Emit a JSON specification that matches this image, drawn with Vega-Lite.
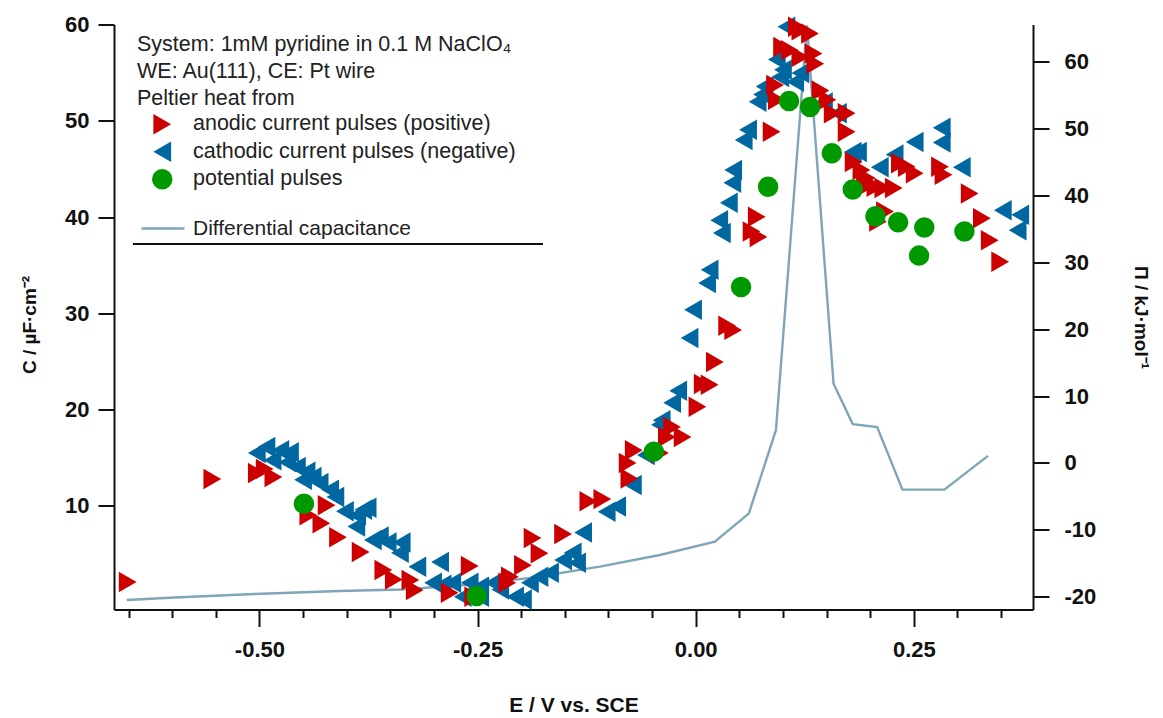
{
  "$schema": "https://vega.github.io/schema/vega-lite/v6.json",
  "width": 919,
  "height": 585,
  "autosize": {"type": "none"},
  "padding": {"left": 114, "top": 24.5, "right": 130, "bottom": 108.5},
  "config": {
    "view": {"stroke": null},
    "font": "Liberation Sans",
    "axis": {"labelFont": "Liberation Sans", "titleFont": "Liberation Sans"},
    "legend": {"labelFont": "Liberation Sans", "titleFont": "Liberation Sans"}
  },
  "datasets": {
    "capacitance": [
      {"E": -0.652, "C": 0.24, "trace": "Differential capacitance"},
      {"E": -0.597, "C": 0.5, "trace": "Differential capacitance"},
      {"E": -0.506, "C": 0.86, "trace": "Differential capacitance"},
      {"E": -0.408, "C": 1.17, "trace": "Differential capacitance"},
      {"E": -0.338, "C": 1.33, "trace": "Differential capacitance"},
      {"E": -0.263, "C": 1.8, "trace": "Differential capacitance"},
      {"E": -0.19, "C": 2.52, "trace": "Differential capacitance"},
      {"E": -0.11, "C": 3.7, "trace": "Differential capacitance"},
      {"E": -0.041, "C": 4.91, "trace": "Differential capacitance"},
      {"E": 0.022, "C": 6.29, "trace": "Differential capacitance"},
      {"E": 0.061, "C": 9.24, "trace": "Differential capacitance"},
      {"E": 0.092, "C": 17.9, "trace": "Differential capacitance"},
      {"E": 0.1275, "C": 59.9, "trace": "Differential capacitance"},
      {"E": 0.158, "C": 22.7, "trace": "Differential capacitance"},
      {"E": 0.18, "C": 18.5, "trace": "Differential capacitance"},
      {"E": 0.208, "C": 18.2, "trace": "Differential capacitance"},
      {"E": 0.237, "C": 11.7, "trace": "Differential capacitance"},
      {"E": 0.285, "C": 11.7, "trace": "Differential capacitance"},
      {"E": 0.335, "C": 15.2, "trace": "Differential capacitance"}
    ],
    "peltier": [
      {"E": -0.503, "Pi": 1.5, "series": "cathodic current pulses (negative)"},
      {"E": -0.492, "Pi": 2.4, "series": "cathodic current pulses (negative)"},
      {"E": -0.476, "Pi": 1.9, "series": "cathodic current pulses (negative)"},
      {"E": -0.465, "Pi": 1.6, "series": "cathodic current pulses (negative)"},
      {"E": -0.485, "Pi": 0.4, "series": "cathodic current pulses (negative)"},
      {"E": -0.468, "Pi": 0.1, "series": "cathodic current pulses (negative)"},
      {"E": -0.457, "Pi": -0.6, "series": "cathodic current pulses (negative)"},
      {"E": -0.446, "Pi": -1.3, "series": "cathodic current pulses (negative)"},
      {"E": -0.439, "Pi": -2.1, "series": "cathodic current pulses (negative)"},
      {"E": -0.45, "Pi": -2.5, "series": "cathodic current pulses (negative)"},
      {"E": -0.431, "Pi": -3.0, "series": "cathodic current pulses (negative)"},
      {"E": -0.419, "Pi": -4.0, "series": "cathodic current pulses (negative)"},
      {"E": -0.413, "Pi": -5.1, "series": "cathodic current pulses (negative)"},
      {"E": -0.402, "Pi": -7.2, "series": "cathodic current pulses (negative)"},
      {"E": -0.388, "Pi": -7.8, "series": "cathodic current pulses (negative)"},
      {"E": -0.381, "Pi": -7.0, "series": "cathodic current pulses (negative)"},
      {"E": -0.376, "Pi": -6.7, "series": "cathodic current pulses (negative)"},
      {"E": -0.389, "Pi": -9.5, "series": "cathodic current pulses (negative)"},
      {"E": -0.37, "Pi": -11.5, "series": "cathodic current pulses (negative)"},
      {"E": -0.362, "Pi": -11.0, "series": "cathodic current pulses (negative)"},
      {"E": -0.353, "Pi": -11.9, "series": "cathodic current pulses (negative)"},
      {"E": -0.337, "Pi": -11.9, "series": "cathodic current pulses (negative)"},
      {"E": -0.339, "Pi": -13.4, "series": "cathodic current pulses (negative)"},
      {"E": -0.319, "Pi": -15.5, "series": "cathodic current pulses (negative)"},
      {"E": -0.293, "Pi": -14.8, "series": "cathodic current pulses (negative)"},
      {"E": -0.301, "Pi": -17.9, "series": "cathodic current pulses (negative)"},
      {"E": -0.29, "Pi": -18.2, "series": "cathodic current pulses (negative)"},
      {"E": -0.279, "Pi": -17.9, "series": "cathodic current pulses (negative)"},
      {"E": -0.267, "Pi": -20.0, "series": "cathodic current pulses (negative)"},
      {"E": -0.259, "Pi": -17.9, "series": "cathodic current pulses (negative)"},
      {"E": -0.247, "Pi": -18.5, "series": "cathodic current pulses (negative)"},
      {"E": -0.247, "Pi": -20.0, "series": "cathodic current pulses (negative)"},
      {"E": -0.232, "Pi": -17.9, "series": "cathodic current pulses (negative)"},
      {"E": -0.224, "Pi": -18.9, "series": "cathodic current pulses (negative)"},
      {"E": -0.207, "Pi": -20.0, "series": "cathodic current pulses (negative)"},
      {"E": -0.198, "Pi": -20.4, "series": "cathodic current pulses (negative)"},
      {"E": -0.19, "Pi": -17.9, "series": "cathodic current pulses (negative)"},
      {"E": -0.179, "Pi": -17.0, "series": "cathodic current pulses (negative)"},
      {"E": -0.167, "Pi": -16.4, "series": "cathodic current pulses (negative)"},
      {"E": -0.152, "Pi": -14.5, "series": "cathodic current pulses (negative)"},
      {"E": -0.141, "Pi": -13.4, "series": "cathodic current pulses (negative)"},
      {"E": -0.136, "Pi": -14.9, "series": "cathodic current pulses (negative)"},
      {"E": -0.129, "Pi": -10.4, "series": "cathodic current pulses (negative)"},
      {"E": -0.102, "Pi": -7.3, "series": "cathodic current pulses (negative)"},
      {"E": -0.09, "Pi": -6.5, "series": "cathodic current pulses (negative)"},
      {"E": -0.072, "Pi": -3.3, "series": "cathodic current pulses (negative)"},
      {"E": -0.057, "Pi": 1.2, "series": "cathodic current pulses (negative)"},
      {"E": -0.041, "Pi": 5.7, "series": "cathodic current pulses (negative)"},
      {"E": -0.039, "Pi": 6.4, "series": "cathodic current pulses (negative)"},
      {"E": -0.027, "Pi": 9.0, "series": "cathodic current pulses (negative)"},
      {"E": -0.02, "Pi": 10.8, "series": "cathodic current pulses (negative)"},
      {"E": -0.007, "Pi": 18.7, "series": "cathodic current pulses (negative)"},
      {"E": -0.003, "Pi": 22.9, "series": "cathodic current pulses (negative)"},
      {"E": 0.013, "Pi": 26.9, "series": "cathodic current pulses (negative)"},
      {"E": 0.016, "Pi": 28.9, "series": "cathodic current pulses (negative)"},
      {"E": 0.027, "Pi": 36.3, "series": "cathodic current pulses (negative)"},
      {"E": 0.03, "Pi": 34.4, "series": "cathodic current pulses (negative)"},
      {"E": 0.038, "Pi": 38.9, "series": "cathodic current pulses (negative)"},
      {"E": 0.042, "Pi": 41.9, "series": "cathodic current pulses (negative)"},
      {"E": 0.043, "Pi": 43.8, "series": "cathodic current pulses (negative)"},
      {"E": 0.055, "Pi": 48.3, "series": "cathodic current pulses (negative)"},
      {"E": 0.06, "Pi": 49.8, "series": "cathodic current pulses (negative)"},
      {"E": 0.071, "Pi": 54.0, "series": "cathodic current pulses (negative)"},
      {"E": 0.076, "Pi": 55.1, "series": "cathodic current pulses (negative)"},
      {"E": 0.079, "Pi": 56.3, "series": "cathodic current pulses (negative)"},
      {"E": 0.093, "Pi": 60.3, "series": "cathodic current pulses (negative)"},
      {"E": 0.097, "Pi": 57.7, "series": "cathodic current pulses (negative)"},
      {"E": 0.1, "Pi": 58.8, "series": "cathodic current pulses (negative)"},
      {"E": 0.104, "Pi": 65.2, "series": "cathodic current pulses (negative)"},
      {"E": 0.114, "Pi": 57.0, "series": "cathodic current pulses (negative)"},
      {"E": 0.12, "Pi": 58.3, "series": "cathodic current pulses (negative)"},
      {"E": 0.147, "Pi": 53.9, "series": "cathodic current pulses (negative)"},
      {"E": 0.163, "Pi": 52.3, "series": "cathodic current pulses (negative)"},
      {"E": 0.18, "Pi": 46.5, "series": "cathodic current pulses (negative)"},
      {"E": 0.186, "Pi": 46.5, "series": "cathodic current pulses (negative)"},
      {"E": 0.211, "Pi": 44.2, "series": "cathodic current pulses (negative)"},
      {"E": 0.228, "Pi": 46.1, "series": "cathodic current pulses (negative)"},
      {"E": 0.251, "Pi": 48.0, "series": "cathodic current pulses (negative)"},
      {"E": 0.282, "Pi": 50.1, "series": "cathodic current pulses (negative)"},
      {"E": 0.282, "Pi": 47.9, "series": "cathodic current pulses (negative)"},
      {"E": 0.305, "Pi": 44.2, "series": "cathodic current pulses (negative)"},
      {"E": 0.352, "Pi": 37.8, "series": "cathodic current pulses (negative)"},
      {"E": 0.372, "Pi": 37.1, "series": "cathodic current pulses (negative)"},
      {"E": 0.369, "Pi": 34.8, "series": "cathodic current pulses (negative)"},
      {"E": -0.651, "Pi": -17.8, "series": "anodic current pulses (positive)"},
      {"E": -0.554, "Pi": -2.4, "series": "anodic current pulses (positive)"},
      {"E": -0.503, "Pi": -1.5, "series": "anodic current pulses (positive)"},
      {"E": -0.494, "Pi": -0.9, "series": "anodic current pulses (positive)"},
      {"E": -0.484, "Pi": -2.1, "series": "anodic current pulses (positive)"},
      {"E": -0.444, "Pi": -7.8, "series": "anodic current pulses (positive)"},
      {"E": -0.429, "Pi": -9.0, "series": "anodic current pulses (positive)"},
      {"E": -0.423, "Pi": -6.3, "series": "anodic current pulses (positive)"},
      {"E": -0.41, "Pi": -11.1, "series": "anodic current pulses (positive)"},
      {"E": -0.384, "Pi": -13.3, "series": "anodic current pulses (positive)"},
      {"E": -0.358, "Pi": -16.0, "series": "anodic current pulses (positive)"},
      {"E": -0.346, "Pi": -17.4, "series": "anodic current pulses (positive)"},
      {"E": -0.327, "Pi": -17.5, "series": "anodic current pulses (positive)"},
      {"E": -0.322, "Pi": -19.0, "series": "anodic current pulses (positive)"},
      {"E": -0.282, "Pi": -19.4, "series": "anodic current pulses (positive)"},
      {"E": -0.259, "Pi": -15.4, "series": "anodic current pulses (positive)"},
      {"E": -0.255, "Pi": -20.0, "series": "anodic current pulses (positive)"},
      {"E": -0.216, "Pi": -17.9, "series": "anodic current pulses (positive)"},
      {"E": -0.213, "Pi": -17.0, "series": "anodic current pulses (positive)"},
      {"E": -0.198, "Pi": -15.3, "series": "anodic current pulses (positive)"},
      {"E": -0.187, "Pi": -11.2, "series": "anodic current pulses (positive)"},
      {"E": -0.179, "Pi": -13.5, "series": "anodic current pulses (positive)"},
      {"E": -0.152, "Pi": -10.6, "series": "anodic current pulses (positive)"},
      {"E": -0.123, "Pi": -5.7, "series": "anodic current pulses (positive)"},
      {"E": -0.107, "Pi": -5.4, "series": "anodic current pulses (positive)"},
      {"E": -0.078, "Pi": 0.0, "series": "anodic current pulses (positive)"},
      {"E": -0.076, "Pi": -2.3, "series": "anodic current pulses (positive)"},
      {"E": -0.071, "Pi": 1.9, "series": "anodic current pulses (positive)"},
      {"E": -0.041, "Pi": 1.5, "series": "anodic current pulses (positive)"},
      {"E": -0.033, "Pi": 3.9, "series": "anodic current pulses (positive)"},
      {"E": -0.027, "Pi": 5.4, "series": "anodic current pulses (positive)"},
      {"E": -0.015, "Pi": 3.9, "series": "anodic current pulses (positive)"},
      {"E": 0.002, "Pi": 8.4, "series": "anodic current pulses (positive)"},
      {"E": 0.008, "Pi": 11.8, "series": "anodic current pulses (positive)"},
      {"E": 0.016, "Pi": 11.7, "series": "anodic current pulses (positive)"},
      {"E": 0.022, "Pi": 15.1, "series": "anodic current pulses (positive)"},
      {"E": 0.036, "Pi": 20.5, "series": "anodic current pulses (positive)"},
      {"E": 0.043, "Pi": 19.9, "series": "anodic current pulses (positive)"},
      {"E": 0.064, "Pi": 34.6, "series": "anodic current pulses (positive)"},
      {"E": 0.07, "Pi": 36.8, "series": "anodic current pulses (positive)"},
      {"E": 0.072, "Pi": 33.8, "series": "anodic current pulses (positive)"},
      {"E": 0.087, "Pi": 49.5, "series": "anodic current pulses (positive)"},
      {"E": 0.093, "Pi": 54.3, "series": "anodic current pulses (positive)"},
      {"E": 0.091, "Pi": 56.5, "series": "anodic current pulses (positive)"},
      {"E": 0.099, "Pi": 62.2, "series": "anodic current pulses (positive)"},
      {"E": 0.108, "Pi": 61.7, "series": "anodic current pulses (positive)"},
      {"E": 0.116, "Pi": 65.2, "series": "anodic current pulses (positive)"},
      {"E": 0.12, "Pi": 64.7, "series": "anodic current pulses (positive)"},
      {"E": 0.131, "Pi": 64.2, "series": "anodic current pulses (positive)"},
      {"E": 0.12, "Pi": 60.7, "series": "anodic current pulses (positive)"},
      {"E": 0.135, "Pi": 61.2, "series": "anodic current pulses (positive)"},
      {"E": 0.137, "Pi": 59.7, "series": "anodic current pulses (positive)"},
      {"E": 0.143, "Pi": 55.7, "series": "anodic current pulses (positive)"},
      {"E": 0.151, "Pi": 54.3, "series": "anodic current pulses (positive)"},
      {"E": 0.157, "Pi": 52.3, "series": "anodic current pulses (positive)"},
      {"E": 0.173, "Pi": 52.3, "series": "anodic current pulses (positive)"},
      {"E": 0.173, "Pi": 49.5, "series": "anodic current pulses (positive)"},
      {"E": 0.181, "Pi": 45.0, "series": "anodic current pulses (positive)"},
      {"E": 0.19, "Pi": 43.8, "series": "anodic current pulses (positive)"},
      {"E": 0.196, "Pi": 42.6, "series": "anodic current pulses (positive)"},
      {"E": 0.194, "Pi": 41.3, "series": "anodic current pulses (positive)"},
      {"E": 0.206, "Pi": 41.3, "series": "anodic current pulses (positive)"},
      {"E": 0.215, "Pi": 41.1, "series": "anodic current pulses (positive)"},
      {"E": 0.227, "Pi": 41.1, "series": "anodic current pulses (positive)"},
      {"E": 0.234, "Pi": 44.8, "series": "anodic current pulses (positive)"},
      {"E": 0.242, "Pi": 44.3, "series": "anodic current pulses (positive)"},
      {"E": 0.251, "Pi": 43.3, "series": "anodic current pulses (positive)"},
      {"E": 0.28, "Pi": 44.3, "series": "anodic current pulses (positive)"},
      {"E": 0.284, "Pi": 43.1, "series": "anodic current pulses (positive)"},
      {"E": 0.314, "Pi": 40.3, "series": "anodic current pulses (positive)"},
      {"E": 0.328, "Pi": 36.6, "series": "anodic current pulses (positive)"},
      {"E": 0.337, "Pi": 33.3, "series": "anodic current pulses (positive)"},
      {"E": 0.349, "Pi": 30.1, "series": "anodic current pulses (positive)"},
      {"E": 0.217, "Pi": 37.6, "series": "anodic current pulses (positive)"},
      {"E": 0.209, "Pi": 36.1, "series": "anodic current pulses (positive)"},
      {"E": -0.449, "Pi": -6.1, "series": "potential pulses"},
      {"E": -0.251, "Pi": -19.9, "series": "potential pulses"},
      {"E": -0.048, "Pi": 1.7, "series": "potential pulses"},
      {"E": 0.052, "Pi": 26.3, "series": "potential pulses"},
      {"E": 0.083, "Pi": 41.3, "series": "potential pulses"},
      {"E": 0.107, "Pi": 54.1, "series": "potential pulses"},
      {"E": 0.131, "Pi": 53.2, "series": "potential pulses"},
      {"E": 0.156, "Pi": 46.3, "series": "potential pulses"},
      {"E": 0.18, "Pi": 40.9, "series": "potential pulses"},
      {"E": 0.206, "Pi": 36.9, "series": "potential pulses"},
      {"E": 0.232, "Pi": 36.0, "series": "potential pulses"},
      {"E": 0.262, "Pi": 35.2, "series": "potential pulses"},
      {"E": 0.256, "Pi": 31.0, "series": "potential pulses"},
      {"E": 0.308, "Pi": 34.6, "series": "potential pulses"}
    ]
  },
  "layer": [
    {
      "data": {"name": "capacitance"},
      "mark": {"type": "line", "strokeWidth": 2.4},
      "encoding": {
        "x": {
          "field": "E",
          "type": "quantitative",
          "scale": {"domain": [-0.6667, 0.3866], "nice": false, "zero": false},
          "axis": {
            "orient": "bottom",
            "values": [-0.65, -0.6, -0.55, -0.5, -0.45, -0.4, -0.35, -0.3, -0.25, -0.2, -0.15, -0.1, -0.05, 0, 0.05, 0.1, 0.15, 0.2, 0.25, 0.3, 0.35],
            "labelExpr": "abs(datum.value * 4 - round(datum.value * 4)) < 0.001 ? replace(format(datum.value, '.2f'), '\u2212', '-') : ''",
            "tickSize": {"condition": {"test": "abs(datum.value * 4 - round(datum.value * 4)) < 0.001", "value": 17}, "value": 8},
            "tickWidth": 2,
            "tickColor": "#111",
            "domainColor": "#111",
            "domainWidth": 2,
            "grid": false,
            "labelFontSize": 22,
            "labelFontWeight": "bold",
            "labelColor": "#111",
            "labelPadding": 13,
            "labelOverlap": false,
            "labelBound": false,
            "labelFlush": false,
            "title": "E / V vs. SCE",
            "titleFontSize": 21,
            "titleFontWeight": "bold",
            "titleColor": "#111",
            "titleY": 85
          }
        },
        "y": {
          "field": "C",
          "type": "quantitative",
          "scale": {"domain": [-0.75, 60], "nice": false, "zero": false},
          "axis": {
            "orient": "left",
            "values": [10, 20, 30, 40, 50, 60],
            "tickSize": 16,
            "tickWidth": 2,
            "tickColor": "#111",
            "domainColor": "#111",
            "domainWidth": 2,
            "grid": false,
            "labelFontSize": 22,
            "labelFontWeight": "bold",
            "labelColor": "#111",
            "labelPadding": 9,
            "title": "C / µF·cm⁻²",
            "titleFontSize": 19,
            "titleFontWeight": "bold",
            "titleColor": "#111",
            "titleX": -75,
            "titleY": 300
          }
        },
        "stroke": {
          "field": "trace",
          "type": "nominal",
          "scale": {"range": ["#7fa6b6"]},
          "legend": {
            "orient": "none",
            "legendX": 26,
            "legendY": 181,
            "title": null,
            "padding": 0,
            "symbolType": "stroke",
            "symbolSize": 1849,
            "symbolStrokeWidth": 2.4,
            "symbolOffset": 0,
            "labelOffset": 7,
            "labelFontSize": 21,
            "labelColor": "#222",
            "labelLimit": 500
          }
        }
      }
    },
    {
      "layer": [
        {
          "data": {"name": "peltier"},
          "mark": {"type": "point", "filled": true, "opacity": 1, "strokeWidth": 0},
          "encoding": {
            "x": {"field": "E", "type": "quantitative"},
            "y": {
              "field": "Pi",
              "type": "quantitative",
              "scale": {"domain": [-21.9, 65.55], "nice": false, "zero": false},
              "axis": {
                "orient": "right",
                "values": [-20, -10, 0, 10, 20, 30, 40, 50, 60],
                "labelExpr": "replace(datum.label, '\u2212', '-')",
                "tickSize": 16,
                "tickWidth": 2,
                "tickColor": "#111",
                "domainColor": "#111",
                "domainWidth": 2,
                "grid": false,
                "labelFontSize": 22,
                "labelFontWeight": "bold",
                "labelColor": "#111",
                "labelPadding": 15,
                "title": "Π / kJ·mol⁻¹",
                "titleFontSize": 19,
                "titleFontWeight": "bold",
                "titleColor": "#111",
                "titleX": 97,
                "titleY": 292.5
              }
            },
            "color": {
              "field": "series",
              "type": "nominal",
              "scale": {
                "domain": ["anodic current pulses (positive)", "cathodic current pulses (negative)", "potential pulses"],
                "range": ["#cc0000", "#0067a0", "#009a00"]
              },
              "legend": {
                "orient": "none",
                "legendX": 23,
                "legendY": 9,
                "padding": 0,
                "title": ["System: 1mM pyridine in 0.1 M NaClO₄", "WE: Au(111), CE: Pt wire", "Peltier heat from"],
                "titleFontSize": 21.5,
                "titleFontWeight": "normal",
                "titleColor": "#222",
                "titleLineHeight": 27,
                "titlePadding": 4.5,
                "titleLimit": 700,
                "labelFontSize": 21.5,
                "labelColor": "#222",
                "labelLimit": 600,
                "labelOffset": 20,
                "symbolOffset": 14.5,
                "rowPadding": 4.5,
                "symbolStrokeWidth": 0
              }
            },
            "shape": {
              "field": "series",
              "type": "nominal",
              "scale": {
                "domain": ["anodic current pulses (positive)", "cathodic current pulses (negative)", "potential pulses"],
                "range": ["triangle-right", "triangle-left", "circle"]
              }
            },
            "size": {
              "field": "series",
              "type": "nominal",
              "scale": {
                "domain": ["anodic current pulses (positive)", "cathodic current pulses (negative)", "potential pulses"],
                "range": [420, 420, 256]
              }
            }
          }
        },
        {
          "data": {"values": [{}]},
          "mark": {"type": "rule", "color": "#111", "strokeWidth": 2},
          "encoding": {
            "x": {"datum": -0.645},
            "x2": {"datum": -0.175},
            "y": {"datum": 32.74}
          }
        }
      ]
    }
  ],
  "resolve": {"scale": {"y": "independent"}}
}
